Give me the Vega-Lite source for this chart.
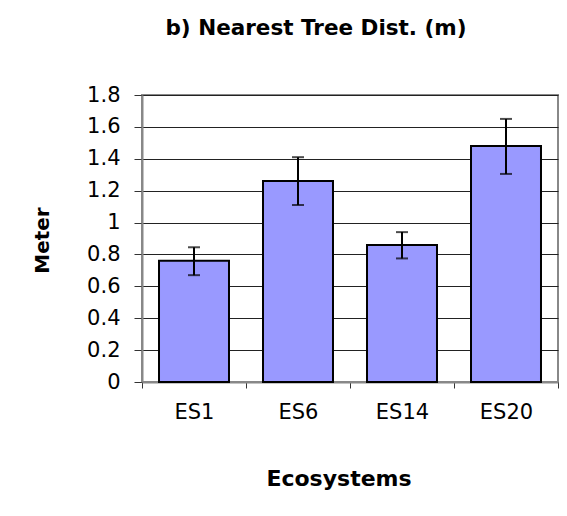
{
  "$schema": "https://vega.github.io/schema/vega-lite/v6.json",
  "autosize": {"type": "none"},
  "padding": {"left": 142, "top": 95, "right": 9, "bottom": 134},
  "width": 416,
  "height": 287,
  "background": "white",
  "title": {
    "text": "b) Nearest Tree Dist. (m)",
    "font": "DejaVu Sans",
    "fontSize": 21.5,
    "fontWeight": "bold",
    "color": "black",
    "anchor": "middle",
    "baseline": "alphabetic",
    "dx": -34,
    "offset": 28
  },
  "data": {
    "values": [
      {"eco": "ES1", "mean": 0.76, "lo": 0.67, "hi": 0.845},
      {"eco": "ES6", "mean": 1.26, "lo": 1.11, "hi": 1.41},
      {"eco": "ES14", "mean": 0.86, "lo": 0.775, "hi": 0.94},
      {"eco": "ES20", "mean": 1.48, "lo": 1.305, "hi": 1.65}
    ]
  },
  "encoding": {
    "x": {
      "field": "eco",
      "type": "nominal",
      "sort": ["ES1", "ES6", "ES14", "ES20"],
      "scale": {"paddingInner": 0, "paddingOuter": 0},
      "axis": {
        "title": "Ecosystems",
        "titleFont": "DejaVu Sans",
        "titleFontSize": 22,
        "titleFontWeight": "bold",
        "titleColor": "black",
        "titleBaseline": "alphabetic",
        "titleX": 196.5,
        "titleY": 103,
        "labelFont": "DejaVu Sans",
        "labelFontSize": 21,
        "labelColor": "black",
        "labelAngle": 0,
        "labelBaseline": "alphabetic",
        "labelPadding": 30,
        "tickBand": "extent",
        "tickSize": 6,
        "tickColor": "#333",
        "domainColor": "#888",
        "domainWidth": 2,
        "grid": false
      }
    }
  },
  "layer": [
    {
      "mark": {"type": "bar", "fill": "#9999FF", "stroke": "black", "strokeWidth": 2, "width": {"band": 0.673}},
      "encoding": {
        "y": {
          "field": "mean",
          "type": "quantitative",
          "scale": {"domain": [0, 1.8], "nice": false},
          "axis": {
            "title": "Meter",
            "format": "~g",
            "values": [0, 0.2, 0.4, 0.6, 0.8, 1, 1.2, 1.4, 1.6, 1.8],
            "tickCount": 12,
            "labelOverlap": false,
            "titleFont": "DejaVu Sans",
            "titleFontSize": 20,
            "titleFontWeight": "bold",
            "titleColor": "black",
            "titleBaseline": "alphabetic",
            "titleX": -94,
            "titleY": 145,
            "titleAngle": 270,
            "labelFont": "DejaVu Sans",
            "labelFontSize": 21,
            "labelColor": "black",
            "labelPadding": 14,
            "tickSize": 8,
            "tickColor": "#333",
            "domainColor": "#888",
            "domainWidth": 2,
            "grid": true,
            "gridColor": "#222",
            "gridWidth": 1
          }
        }
      }
    },
    {
      "mark": {"type": "rule", "color": "black", "strokeWidth": 2},
      "encoding": {
        "y": {"field": "lo", "type": "quantitative"},
        "y2": {"field": "hi"}
      }
    },
    {
      "mark": {"type": "tick", "color": "black", "thickness": 2, "size": 12},
      "encoding": {"y": {"field": "lo", "type": "quantitative"}}
    },
    {
      "mark": {"type": "tick", "color": "black", "thickness": 2, "size": 12},
      "encoding": {"y": {"field": "hi", "type": "quantitative"}}
    }
  ],
  "config": {
    "view": {"stroke": "#888", "strokeWidth": 2}
  }
}
